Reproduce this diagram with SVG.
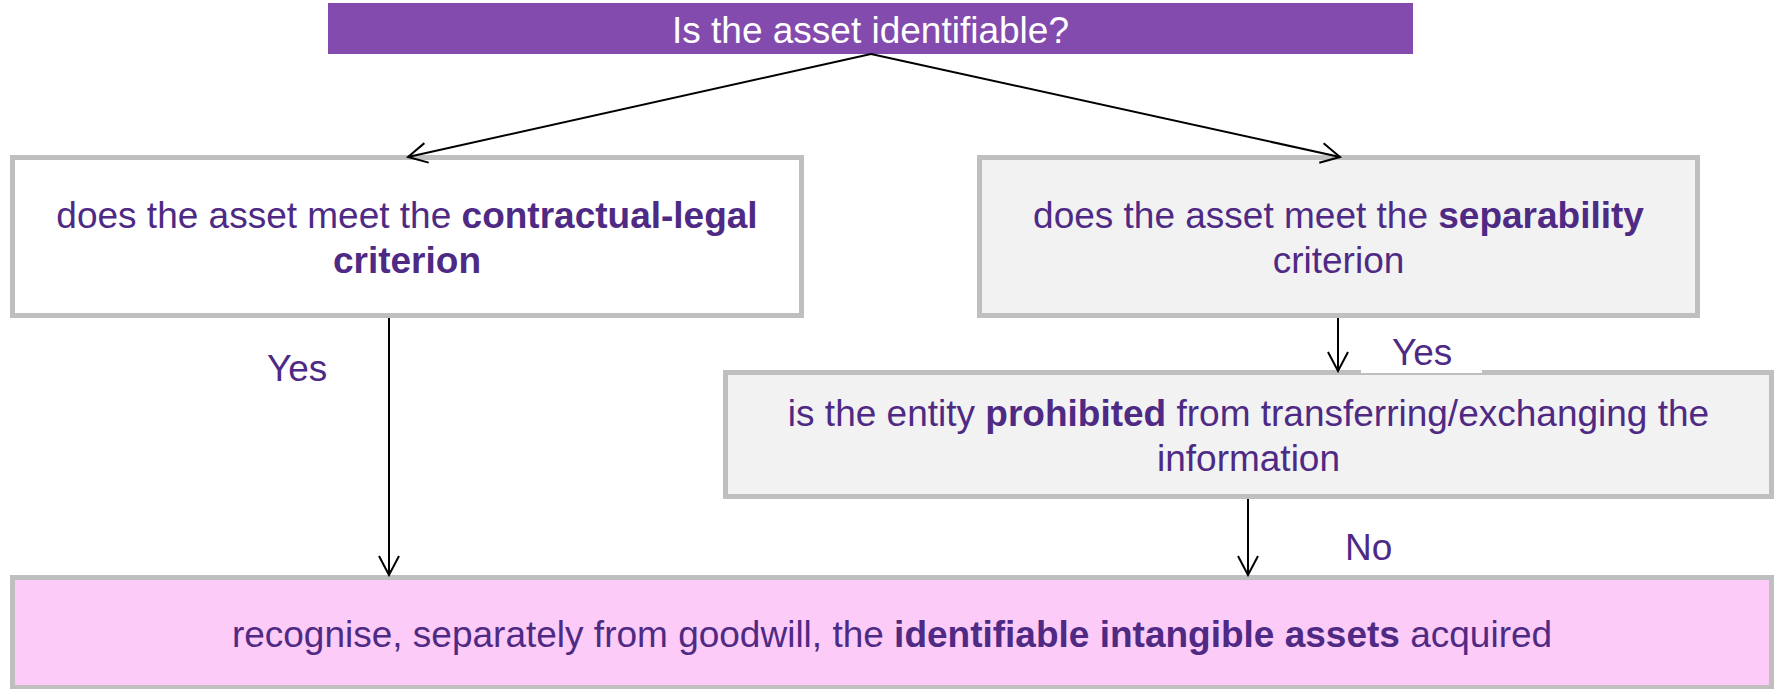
<svg xmlns="http://www.w3.org/2000/svg" width="1775" height="689" viewBox="0 0 1775 689">
  <style>
    .box { stroke: #BFBFBF; stroke-width: 5; }
    .plain { fill: #FFFFFF; }
    .grey { fill: #F2F2F2; }
    .pink { fill: #FDCBF7; }
    .txt { font-family: "Liberation Sans", Arial, sans-serif; font-size: 37px; fill: #4E2A84; }
    .title { font-family: "Liberation Sans", Arial, sans-serif; font-size: 37px; fill: #FFFFFF; }
    .b { font-weight: bold; }
    .link { stroke: #000000; stroke-width: 2; fill: none; marker-end: url(#head); }
  </style>
  <defs>
    <marker id="head" viewBox="0 0 22 22" refX="20" refY="11" markerWidth="22" markerHeight="22" markerUnits="userSpaceOnUse" orient="auto">
      <path d="M1,1 L20,11 L1,21" fill="none" stroke="#000000" stroke-width="2"/>
    </marker>
  </defs>

  <rect width="1775" height="689" fill="#FFFFFF"/>

  <!-- question header -->
  <g id="question">
    <rect x="328" y="3" width="1085" height="51" fill="#834BAE"/>
    <text class="title" x="870.5" y="43" text-anchor="middle">Is the asset identifiable?</text>
  </g>

  <!-- contractual-legal test -->
  <g id="contractual">
    <rect class="box plain" x="12.5" y="157.5" width="789" height="158"/>
    <text class="txt" x="407" y="228" text-anchor="middle">does the asset meet the <tspan class="b">contractual-legal</tspan></text>
    <text class="txt b" x="407" y="273" text-anchor="middle">criterion</text>
  </g>

  <!-- separability test -->
  <g id="separability">
    <rect class="box grey" x="979.5" y="157.5" width="718" height="158"/>
    <text class="txt" x="1338.5" y="228" text-anchor="middle">does the asset meet the <tspan class="b">separability</tspan></text>
    <text class="txt" x="1338.5" y="273" text-anchor="middle">criterion</text>
  </g>

  <!-- prohibition test -->
  <g id="prohibited">
    <rect class="box grey" x="725.5" y="372.5" width="1046" height="124"/>
    <text class="txt" x="1248.5" y="426" text-anchor="middle">is the entity <tspan class="b">prohibited</tspan> from transferring/exchanging the</text>
    <text class="txt" x="1248.5" y="471" text-anchor="middle">information</text>
  </g>

  <!-- outcome -->
  <g id="recognise">
    <rect class="box pink" x="12.5" y="577.5" width="1759" height="110"/>
    <text class="txt" x="892" y="647" text-anchor="middle">recognise, separately from goodwill, the <tspan class="b">identifiable intangible assets</tspan> acquired</text>
  </g>

  <!-- connectors and their labels -->
  <g id="connectors">
    <line class="link" x1="871" y1="54" x2="408" y2="157"/>
    <line class="link" x1="871" y1="54" x2="1340" y2="157"/>
    <line class="link" x1="389" y1="318" x2="389" y2="575"/>
    <line class="link" x1="1338" y1="318" x2="1338" y2="371"/>
    <line class="link" x1="1248" y1="499" x2="1248" y2="575"/>
    <rect x="1361" y="330" width="121" height="43" fill="#FFFFFF"/>
    <text class="txt" x="1392" y="365">Yes</text>
    <text class="txt" x="267" y="381">Yes</text>
    <text class="txt" x="1345" y="560">No</text>
  </g>
</svg>
